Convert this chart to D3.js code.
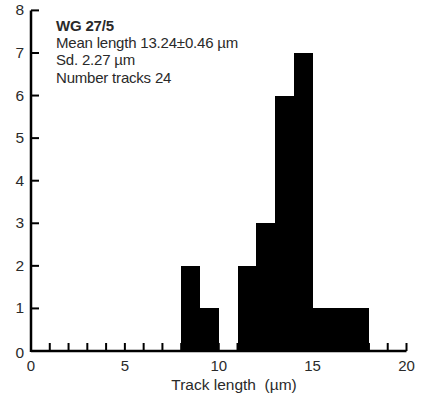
<!DOCTYPE html>
<html>
<head>
<meta charset="utf-8">
<script src="https://cdn.jsdelivr.net/npm/d3@7"></script>
<style>
  body { margin: 0; background: #fff; }
  svg { font-family: "Liberation Sans", Arial, sans-serif; }
</style>
</head>
<body>
<svg width="426" height="403"></svg>
<script>
// histogram bins (µm) and track counts
const binStart = [8, 9, 11, 12, 13, 14, 15, 16, 17];
const binEnd   = [9, 10, 12, 13, 14, 15, 16, 17, 18];
const counts   = [2, 1, 2, 3, 6, 7, 1, 1, 1];

const xTickLabels = [0, 5, 10, 15, 20];
const xMinorTicks = d3.range(0, 21);
const yTicks = [0, 1, 2, 3, 4, 5, 6, 7, 8];

const infoLines = ["WG 27/5", "Mean length 13.24±0.46 µm", "Sd. 2.27 µm", "Number tracks 24"];

const svg = d3.select("svg");

const x = d3.scaleLinear().domain([0, 20]).range([31, 406.5]);
const y = d3.scaleLinear().domain([0, 8]).range([351, 10.4]);

const textColor = "#2a2a2a";

// ticks first, bars cover them
const ticksG = svg.append("g");
ticksG.selectAll("line.xt")
    .data(xMinorTicks.filter(d => d > 0))
    .enter().append("line")
    .attr("x1", d => x(d)).attr("x2", d => x(d))
    .attr("y1", y(0)).attr("y2", y(0) - 8)
    .attr("stroke", "#000").attr("stroke-width", 2);

ticksG.selectAll("line.yt")
    .data(yTicks.filter(d => d > 0))
    .enter().append("line")
    .attr("x1", x(0)).attr("x2", x(0) + 8)
    .attr("y1", d => y(d)).attr("y2", d => y(d))
    .attr("stroke", "#000").attr("stroke-width", 2);

// bars
const bars = binStart.map((s, i) => ({ s: s, e: binEnd[i], c: counts[i] }));
svg.selectAll("rect.bar")
    .data(bars)
    .enter().append("rect")
    .attr("x", d => Math.round(x(d.s)))
    .attr("y", d => Math.round(y(d.c)))
    .attr("width", d => Math.round(x(d.e)) - Math.round(x(d.s)))
    .attr("height", d => Math.round(y(0)) - Math.round(y(d.c)))
    .attr("shape-rendering", "crispEdges")
    .attr("fill", "#000");

// axis lines
svg.append("line")
    .attr("x1", x(0)).attr("x2", x(20))
    .attr("y1", y(0)).attr("y2", y(0))
    .attr("stroke", "#000").attr("stroke-width", 2.5);
svg.append("line")
    .attr("x1", x(0)).attr("x2", x(0))
    .attr("y1", y(0) + 1).attr("y2", y(8))
    .attr("stroke", "#000").attr("stroke-width", 2.5);

// tick labels
svg.selectAll("text.xl")
    .data(xTickLabels)
    .enter().append("text")
    .attr("x", d => x(d))
    .attr("y", y(0) + 20)
    .attr("text-anchor", "middle")
    .attr("font-size", 15)
    .attr("fill", textColor)
    .text(d => d);

svg.selectAll("text.yl")
    .data(yTicks)
    .enter().append("text")
    .attr("x", x(0) - 7)
    .attr("y", d => y(d) + 5 + (d === 0 ? 2 : 0))
    .attr("text-anchor", "end")
    .attr("font-size", 15.5)
    .attr("fill", textColor)
    .text(d => d);

svg.append("text")
    .attr("x", 234)
    .attr("y", 390)
    .attr("text-anchor", "middle")
    .attr("font-size", 15.5)
    .attr("fill", textColor)
    .attr("xml:space", "preserve")
    .text("Track length  (µm)");

// info block
svg.selectAll("text.info")
    .data(infoLines)
    .enter().append("text")
    .attr("x", 56)
    .attr("y", (d, i) => 31 + i * 17.2)
    .attr("font-size", 15)
    .attr("font-weight", (d, i) => i === 0 ? "bold" : "normal")
    .attr("letter-spacing", -0.2)
    .attr("fill", textColor)
    .text(d => d);
</script>
</body>
</html>
